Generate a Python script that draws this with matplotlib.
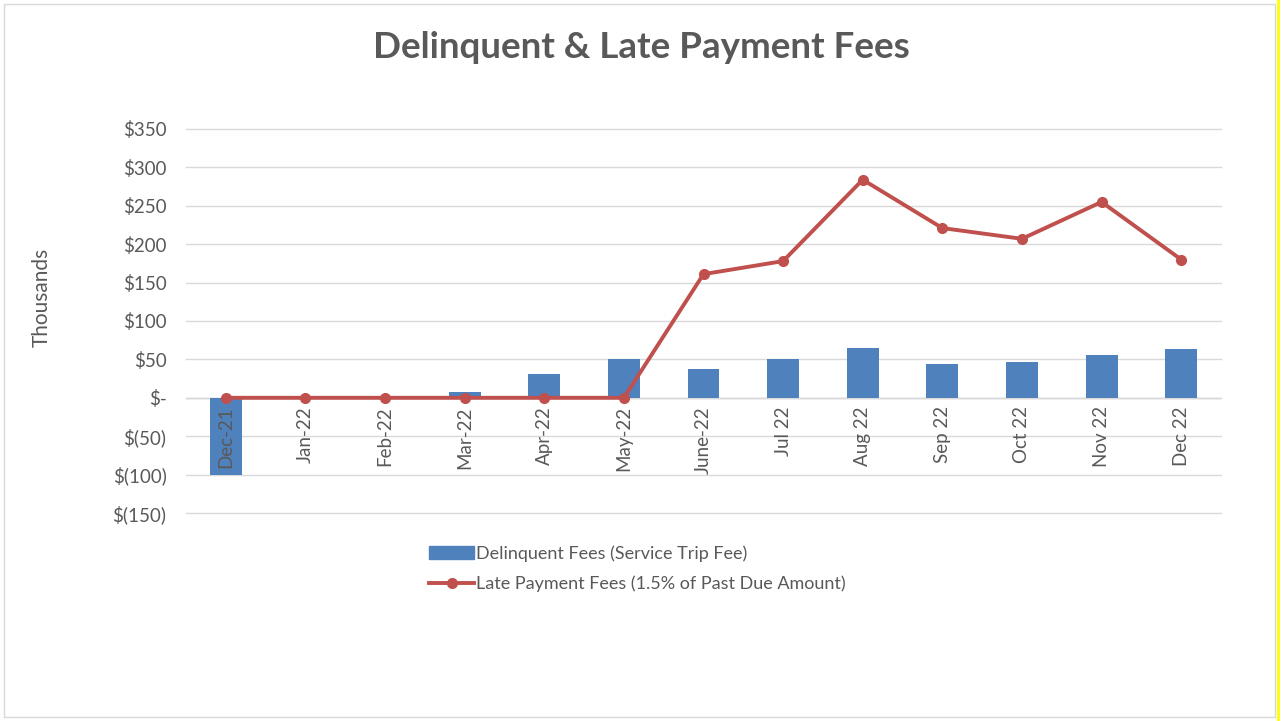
import matplotlib.pyplot as plt
from matplotlib.patches import Rectangle
from matplotlib.lines import Line2D

months = ['Dec-21', 'Jan-22', 'Feb-22', 'Mar-22', 'Apr-22', 'May-22', 'June-22',
          'Jul 22', 'Aug 22', 'Sep 22', 'Oct 22', 'Nov 22', 'Dec 22']
delinquent = [-100, 0, 0, 8, 31, 50, 38, 50, 65, 44, 47, 56, 64]
late_payment = [0, 0, 0, 0, 0, 0, 161, 178, 284, 221, 207, 255, 180]
y_ticks = [350, 300, 250, 200, 150, 100, 50, 0, -50, -100, -150]

grey = '#595959'
plt.rcParams['font.family'] = ['Lato', 'DejaVu Sans']

fig = plt.figure(figsize=(12.85, 7.21), dpi=100)
ax = fig.add_axes([186 / 1285, 1 - 513 / 721, (1221 - 186) / 1285, (513 - 129) / 721])

x = list(range(len(months)))
ax.bar(x, delinquent, width=0.4, color='#4F81BD', zorder=2,
       label='Delinquent Fees (Service Trip Fee)')
ax.plot(x, late_payment, color='#C0504D', lw=2.8, marker='o', markersize=7, zorder=3,
        label='Late Payment Fees (1.5% of Past Due Amount)')

ax.set_xlim(-0.5, len(months) - 0.5)
ax.set_ylim(-150, 350)


def fmt(v):
    if v == 0:
        return '$-'
    if v < 0:
        return f'$({-v})'
    return f'${v}'


ax.set_yticks(y_ticks)
ax.set_yticklabels([fmt(v) for v in y_ticks], color=grey, fontsize=13.5)
ax.tick_params(axis='y', length=0, pad=14)
ax.set_xticks([])
ax.grid(axis='y', color='#d9d9d9', lw=1, zorder=0)
for gl in ax.get_ygridlines():
    gl.set_clip_on(False)
ax.axhline(0, color='#bfbfbf', lw=1, zorder=1)
for s in ax.spines.values():
    s.set_visible(False)

for i, m in enumerate(months):
    ax.annotate(m, xy=(i, 0), xytext=(0, -6), textcoords='offset points',
                rotation=90, ha='center', va='top', fontsize=13.5, color=grey, zorder=4)

fig.text(42 / 1285, 1 - 297 / 721, 'Thousands', rotation=90, ha='center', va='center',
         color=grey, fontsize=15)

fig.text(641 / 1285, 1 - 48 / 721, 'Delinquent & Late Payment Fees', ha='center', va='center',
         fontsize=26.5, fontweight='bold', color=grey)

handles = [Rectangle((0, 0), 1, 1, color='#4F81BD'),
           Line2D([0], [0], color='#C0504D', lw=2.8, marker='o', markersize=7)]
labels = ['Delinquent Fees (Service Trip Fee)', 'Late Payment Fees (1.5% of Past Due Amount)']
fig.legend(handles, labels, loc='upper left', bbox_to_anchor=(413 / 1285, 1 - 529 / 721),
           frameon=False, fontsize=13, labelcolor=grey, handlelength=2.5, handletextpad=0.1,
           labelspacing=0.75)

# outer border and yellow edge
fig.add_artist(Rectangle((4 / 1285, 4 / 721), 1271 / 1285, 713 / 721, transform=fig.transFigure,
                         fill=False, edgecolor='#d9d9d9', lw=1))
fig.add_artist(Line2D([1278 / 1285, 1278 / 1285], [0, 1], transform=fig.transFigure,
                      color='#ffff00', lw=2))

fig.savefig('out.png', dpi=100)
